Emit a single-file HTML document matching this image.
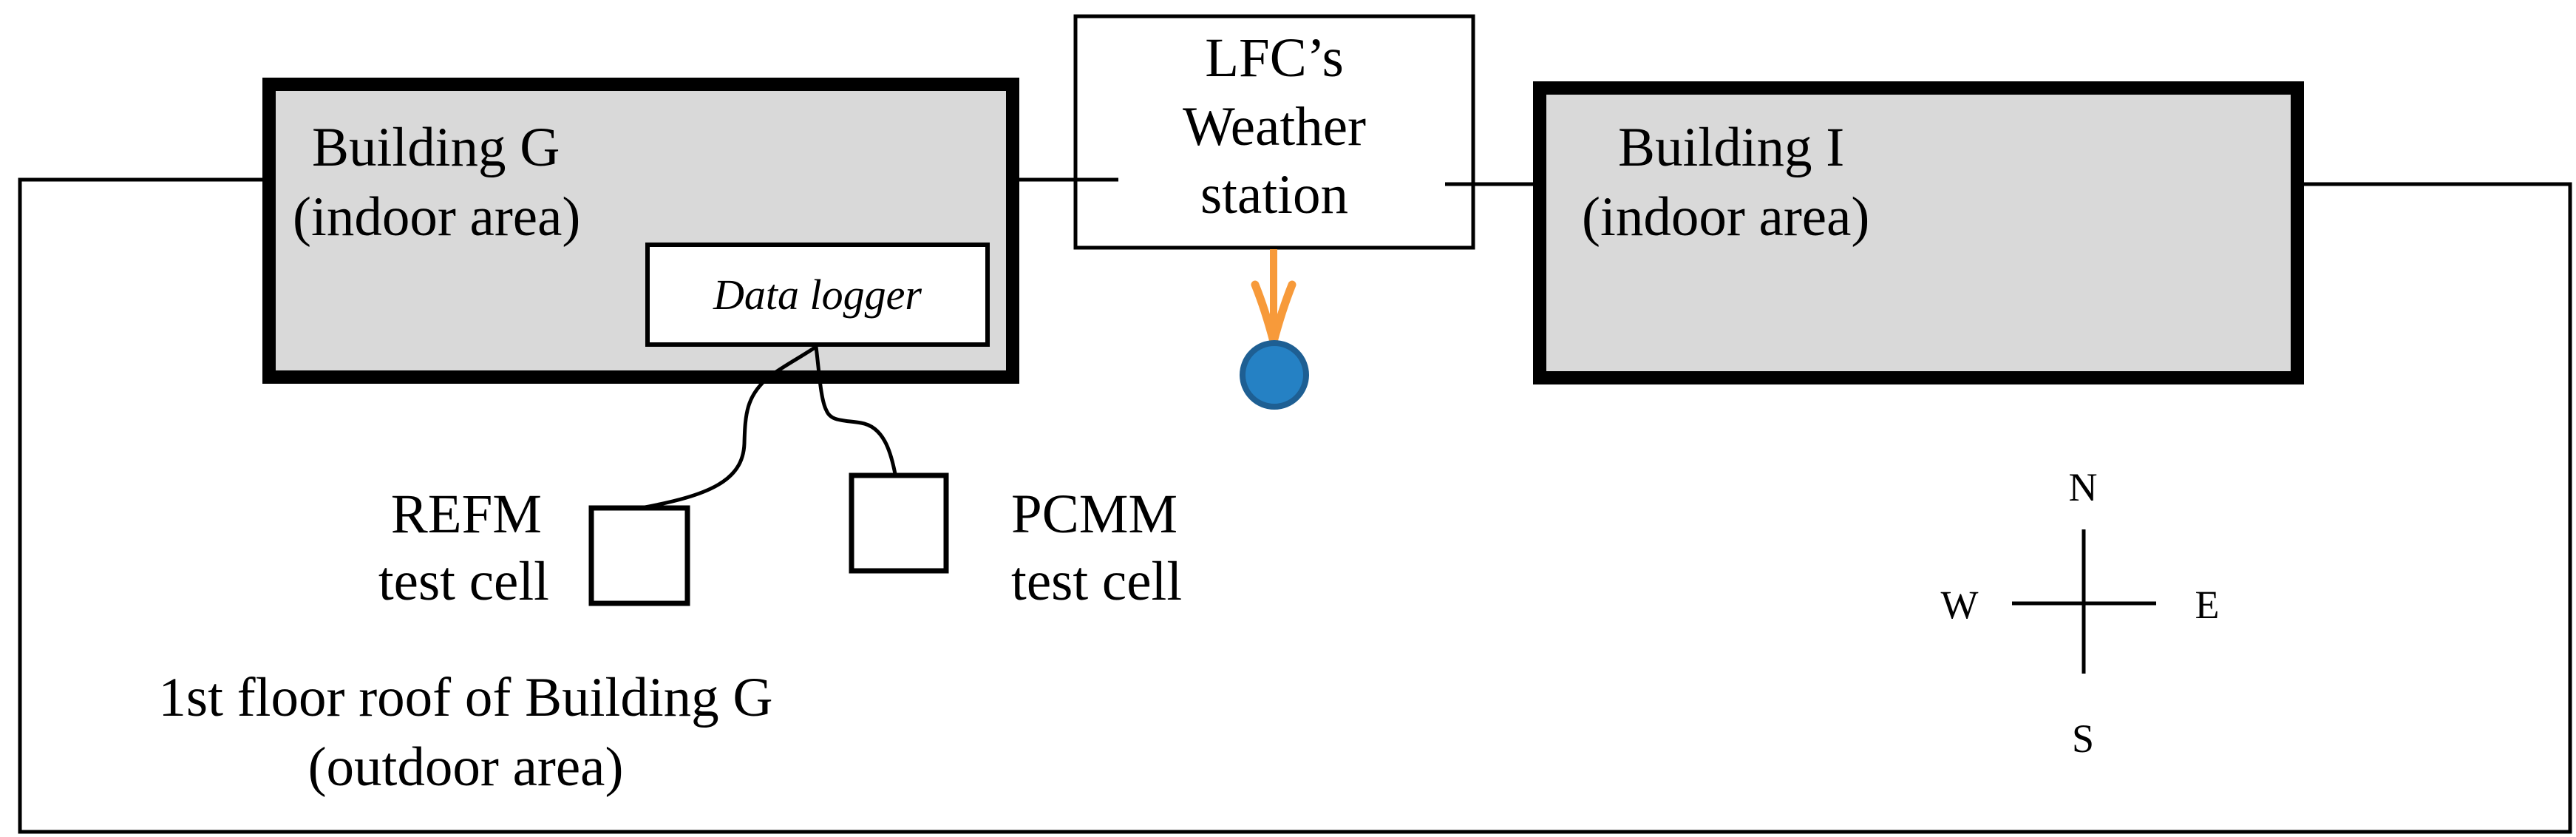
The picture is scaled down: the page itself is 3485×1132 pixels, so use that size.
<!DOCTYPE html>
<html><head><meta charset="utf-8"><style>
html,body{margin:0;padding:0;background:#fff;}
svg{display:block;}
text{font-family:"Liberation Serif","Times New Roman",serif;fill:#000;}
</style></head><body>
<svg width="3485" height="1132" viewBox="0 0 3485 1132" xmlns="http://www.w3.org/2000/svg">
<!-- outer frame -->
<polyline points="362,243 27,243 27,1125 3477,1125 3477,249 3110,249" fill="none" stroke="#000" stroke-width="5"/>
<line x1="1375" y1="243" x2="1513" y2="243" stroke="#000" stroke-width="5"/>
<line x1="1955" y1="249" x2="2080" y2="249" stroke="#000" stroke-width="5"/>
<!-- weather station box -->
<rect x="1455" y="22" width="538" height="313" fill="#fff" stroke="#000" stroke-width="5"/>
<line x1="1453" y1="243" x2="1513" y2="243" stroke="#000" stroke-width="5"/>
<line x1="1955" y1="249" x2="1995" y2="249" stroke="#000" stroke-width="5"/>
<text x="1724" y="103" font-size="75" text-anchor="middle">LFC’s</text>
<text x="1724" y="196" font-size="75" text-anchor="middle">Weather</text>
<text x="1724" y="288" font-size="75" text-anchor="middle">station</text>
<!-- Building G -->
<rect x="364" y="114" width="1006" height="396" fill="#d9d9d9" stroke="#000" stroke-width="18"/>
<text x="422" y="224" font-size="75">Building G</text>
<text x="396" y="318" font-size="75">(indoor area)</text>
<rect x="876" y="331" width="460" height="135" fill="#fff" stroke="#000" stroke-width="6"/>
<text x="1106" y="418" font-size="58" font-style="italic" text-anchor="middle">Data logger</text>
<!-- Building I -->
<rect x="2083" y="119" width="1025" height="392" fill="#d9d9d9" stroke="#000" stroke-width="18"/>
<text x="2189" y="224" font-size="75">Building I</text>
<text x="2140" y="318" font-size="75">(indoor area)</text>
<!-- orange arrow + sensor -->
<line x1="1723" y1="337" x2="1723" y2="455" stroke="#f79a3a" stroke-width="10"/>
<path d="M1698,385 Q1712,420 1723,462 Q1734,420 1748,385" fill="none" stroke="#f79a3a" stroke-width="11" stroke-linecap="round"/>
<circle cx="1724" cy="507" r="43" fill="#2581c4" stroke="#1e5f93" stroke-width="8"/>
<!-- wires -->
<path d="M1104,469 C1080,485 1060,495 1040,510 C1010,535 1008,560 1007,600 C1005,650 960,670 867,687" fill="none" stroke="#000" stroke-width="5"/>
<path d="M1104,469 C1108,500 1110,540 1118,555 C1124,570 1140,568 1165,572 C1195,577 1205,610 1211,641" fill="none" stroke="#000" stroke-width="5"/>
<!-- test cells -->
<rect x="800" y="687" width="130" height="129" fill="#fff" stroke="#000" stroke-width="7"/>
<rect x="1152" y="643" width="128" height="129" fill="#fff" stroke="#000" stroke-width="7"/>
<text x="733" y="720" font-size="75" text-anchor="end">REFM</text>
<text x="743" y="811" font-size="75" text-anchor="end">test cell</text>
<text x="1368" y="720" font-size="75">PCMM</text>
<text x="1368" y="811" font-size="75">test cell</text>
<text x="630" y="968" font-size="75" text-anchor="middle">1st floor roof of Building G</text>
<text x="630" y="1062" font-size="75" text-anchor="middle">(outdoor area)</text>
<!-- compass -->
<line x1="2819" y1="716" x2="2819" y2="911" stroke="#000" stroke-width="5"/>
<line x1="2722" y1="816" x2="2917" y2="816" stroke="#000" stroke-width="5"/>
<text x="2818" y="677" font-size="54" text-anchor="middle">N</text>
<text x="2818" y="1017" font-size="54" text-anchor="middle">S</text>
<text x="2651" y="836" font-size="54" text-anchor="middle">W</text>
<text x="2986" y="836" font-size="54" text-anchor="middle">E</text>
</svg>
</body></html>
